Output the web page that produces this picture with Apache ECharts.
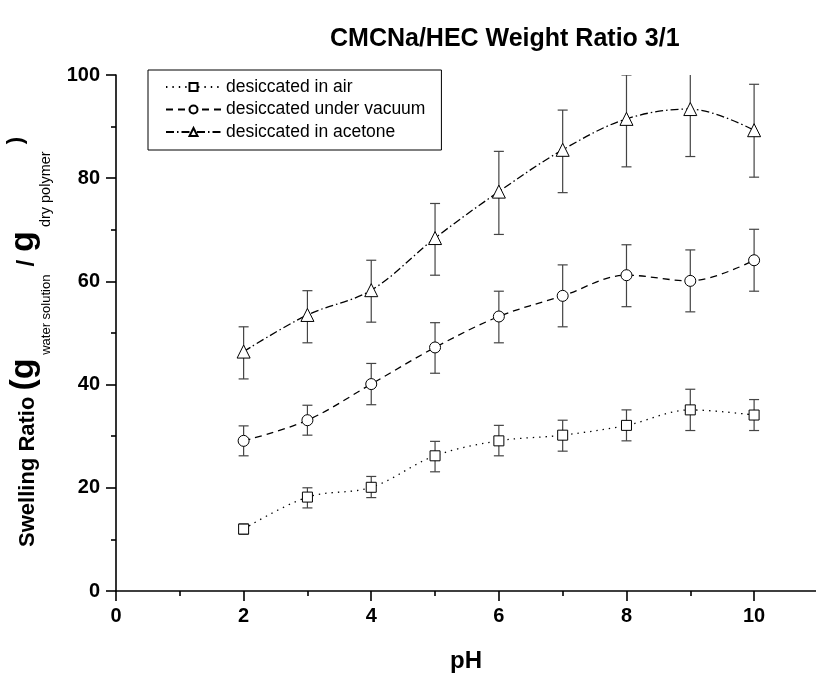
<!DOCTYPE html>
<html><head><meta charset="utf-8">
<script src="https://cdn.jsdelivr.net/npm/echarts@6/dist/echarts.min.js"></script>
<style>html,body{margin:0;padding:0;background:#fff}#c{width:816px;height:673px}</style>
</head><body><div id="c"></div>
<script>
const FONT = "'Liberation Sans', Arial, sans-serif";
const pH = [2, 3, 4, 5, 6, 7, 8, 9, 10];
const seriesNames = ['desiccated in air', 'desiccated under vacuum', 'desiccated in acetone'];
const airMean = [12, 18.2, 20.1, 26.2, 29.1, 30.2, 32.1, 35.1, 34.1];
const airLow  = [11, 16.1, 18.1, 23.1, 26.2, 27.1, 29.1, 31.1, 31.1];
const airHigh = [13, 20.0, 22.2, 29.0, 32.1, 33.1, 35.1, 39.1, 37.1];
const vacMean = [29.1, 33.1, 40.1, 47.2, 53.2, 57.2, 61.2, 60.1, 64.1];
const vacLow  = [26.2, 30.2, 36.1, 42.2, 48.1, 51.2, 55.1, 54.1, 58.1];
const vacHigh = [32.0, 36.0, 44.1, 52.0, 58.1, 63.2, 67.1, 66.1, 70.1];
const aceMean = [46.4, 53.5, 58.3, 68.4, 77.4, 85.5, 91.5, 93.4, 89.3];
const aceLow  = [41.1, 48.1, 52.1, 61.2, 69.1, 77.2, 82.2, 84.2, 80.2];
const aceHigh = [51.2, 58.2, 64.1, 75.1, 85.2, 93.2, 100, 102, 98.2];
const xMajorTicks = [0, 2, 4, 6, 8, 10];
const xMinorTicks = [1, 3, 5, 7, 9];

const chart = echarts.init(document.getElementById('c'), null, {renderer: 'canvas'});
const XMAX = 10.97;
const gridPos = {left: 116, right: 0, top: 75, bottom: 82, containLabel: false, outerBoundsMode: 'none'};

function lineSeries(name, mean, symbol, symbolSize, dash) {
  return {
    type: 'line', name: name, xAxisIndex: 0, yAxisIndex: 0,
    data: pH.map((x, i) => [x, mean[i]]),
    smooth: 0.35, symbol: symbol, symbolSize: symbolSize, showAllSymbol: true,
    color: '#000',
    itemStyle: {color: '#fff', borderColor: '#000', borderWidth: 1},
    lineStyle: {color: '#000', width: 1.3, type: dash},
    z: 3, animation: false
  };
}
function errSeries(low, high) {
  return {
    type: 'custom', xAxisIndex: 0, yAxisIndex: 0, clip: true, silent: true, z: 1,
    data: pH.map((x, i) => [x, low[i], high[i]]),
    encode: {x: 0, y: [1, 2]},
    renderItem: function (params, api) {
      const x = api.value(0);
      const lo = api.coord([x, api.value(1)]);
      const hi = api.coord([x, api.value(2)]);
      const w = 5;
      const st = {stroke: '#444', lineWidth: 1.2};
      return {type: 'group', children: [
        {type: 'line', shape: {x1: lo[0], y1: lo[1], x2: hi[0], y2: hi[1]}, style: st},
        {type: 'line', shape: {x1: lo[0] - w, y1: lo[1], x2: lo[0] + w, y2: lo[1]}, style: st},
        {type: 'line', shape: {x1: hi[0] - w, y1: hi[1], x2: hi[0] + w, y2: hi[1]}, style: st}
      ]};
    },
    animation: false
  };
}

const option = {
  backgroundColor: '#fff',
  animation: false,
  title: {
    text: 'CMCNa/HEC Weight Ratio 3/1', left: 325, top: 22,
    textStyle: {fontFamily: FONT, fontSize: 25, fontWeight: 'bold', color: '#000'}
  },
  legend: {
    orient: 'vertical', left: 148, top: 70, padding: [8, 16, 9, 17],
    borderColor: '#000', borderWidth: 1, itemWidth: 55, itemHeight: 10, itemGap: 4.5,
    textStyle: {fontFamily: FONT, fontSize: 17.5, color: '#000'},
    data: seriesNames
  },
  grid: [Object.assign({}, gridPos), Object.assign({}, gridPos)],
  xAxis: [{
    type: 'value', gridIndex: 0, min: 0, max: XMAX,
    name: 'pH', nameLocation: 'middle', nameGap: 58,
    nameTextStyle: {fontFamily: FONT, fontSize: 24, fontWeight: 'bold', color: '#000'},
    axisLine: {lineStyle: {color: '#000', width: 1.6}},
    axisTick: {show: true, customValues: xMajorTicks, length: 10, lineStyle: {color: '#000', width: 1.6}},
    axisLabel: {customValues: xMajorTicks, margin: 15, fontFamily: FONT, fontSize: 20, fontWeight: 'bold', color: '#000'},
    splitLine: {show: false}
  }, {
    type: 'value', gridIndex: 1, min: 0, max: XMAX, position: 'bottom',
    axisLine: {show: false},
    axisTick: {show: true, customValues: xMinorTicks, length: 5, lineStyle: {color: '#000', width: 1.6}},
    axisLabel: {show: false},
    splitLine: {show: false}
  }],
  yAxis: [{
    type: 'value', gridIndex: 0, min: 0, max: 100, interval: 20,
    name: '{m|Swelling Ratio }{big|(g}{s| water solution}{sl|/}{big|g}{s2| dry polymer}{sup|)}',
    nameLocation: 'middle', nameGap: 62, nameRotate: 90,
    nameTextStyle: {
      padding: [0, 11, 0, 0],
      rich: {
        m: {fontFamily: FONT, fontSize: 22, fontWeight: 'bold', color: '#000', lineHeight: 22, verticalAlign: 'bottom', padding: [0, 0, 15, 0]},
        big: {fontFamily: FONT, fontSize: 34, fontWeight: 'bold', color: '#000', lineHeight: 34, verticalAlign: 'bottom', padding: [0, 0, 13, 0]},
        sl: {fontFamily: FONT, fontSize: 24, fontWeight: 'bold', color: '#000', lineHeight: 24, verticalAlign: 'bottom', padding: [0, 8, 15, 8]},
        sup: {fontFamily: FONT, fontSize: 22, fontWeight: 'bold', color: '#000', lineHeight: 22, verticalAlign: 'bottom', padding: [0, 7, 27, 7]},
        s: {fontFamily: FONT, fontSize: 13, color: '#000', lineHeight: 13, verticalAlign: 'bottom', padding: [0, 0, 1, 0]},
        s2: {fontFamily: FONT, fontSize: 14.5, color: '#000', lineHeight: 14, verticalAlign: 'bottom', padding: [0, 0, 1, 0]}
      }
    },
    axisLine: {lineStyle: {color: '#000', width: 1.6}},
    axisTick: {show: true, length: 10, lineStyle: {color: '#000', width: 1.6}},
    minorTick: {show: true, splitNumber: 2, length: 5, lineStyle: {color: '#000', width: 1.6}},
    axisLabel: {margin: 16, fontFamily: FONT, fontSize: 20, fontWeight: 'bold', color: '#000'},
    splitLine: {show: false}
  }, {
    type: 'value', gridIndex: 1, min: 0, max: 100, show: false
  }],
  series: [
    errSeries(airLow, airHigh),
    errSeries(vacLow, vacHigh),
    errSeries(aceLow, aceHigh),
    lineSeries(seriesNames[0], airMean, 'rect', 10, [1.4, 5]),
    lineSeries(seriesNames[1], vacMean, 'circle', 11, [7, 5]),
    lineSeries(seriesNames[2], aceMean, 'triangle', 13, [8, 3, 1.5, 3])
  ]
};
chart.setOption(option);
</script>
</body></html>
